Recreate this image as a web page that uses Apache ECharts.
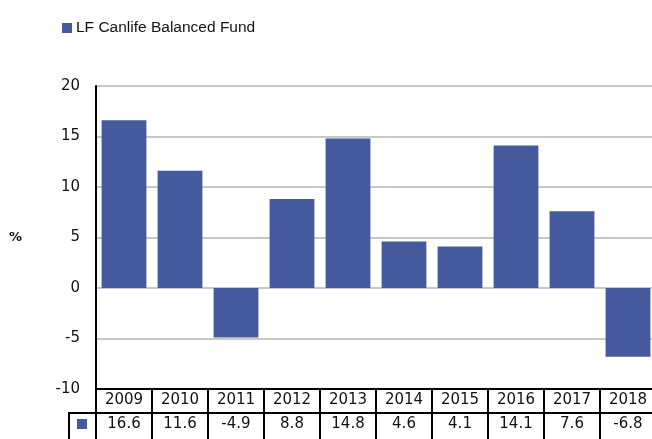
<!DOCTYPE html>
<html>
<head>
<meta charset="utf-8">
<script src="https://cdn.jsdelivr.net/npm/echarts@6/dist/echarts.min.js"></script>
<style>
html,body{margin:0;padding:0;background:#fff;}
#c{width:652px;height:439px;}
</style>
</head>
<body>
<div id="c"></div>
<script>
const seriesName = 'LF Canlife Balanced Fund';
const years = ['2009','2010','2011','2012','2013','2014','2015','2016','2017','2018'];
const values = [16.6, 11.6, -4.9, 8.8, 14.8, 4.6, 4.1, 14.1, 7.6, -6.8];
const yTicks = {min: -10, max: 20, interval: 5};

const barColor = '#445A9C';
const tickFont = 'DejaVu Sans';
const chart = echarts.init(document.getElementById('c'), null, {renderer: 'canvas'});

const baseCat = {
  type: 'category',
  position: 'bottom',
  boundaryGap: true,
  splitLine: {show: false}
};

chart.setOption({
  animation: false,
  backgroundColor: '#fff',
  legend: {
    left: 57, top: 15,
    icon: 'rect', itemWidth: 10, itemHeight: 10, itemGap: 4,
    textStyle: {fontFamily: 'Liberation Sans', fontSize: 15.5, color: '#111', padding: [0, 0, 0, -1]},
    data: [seriesName]
  },
  grid: {left: 96, top: 86, width: 560, height: 303, containLabel: false, outerBoundsMode: 'none'},
  yAxis: {
    type: 'value',
    min: yTicks.min, max: yTicks.max, interval: yTicks.interval,
    name: '%', nameLocation: 'middle', nameGap: 74, nameRotate: 0,
    nameTextStyle: {fontFamily: 'DejaVu Sans', fontWeight: 'bold', fontSize: 13, color: '#111'},
    axisLine: {show: true, lineStyle: {color: '#000', width: 2}},
    axisTick: {show: false},
    axisLabel: {fontFamily: tickFont, fontSize: 15, color: '#111', margin: 16},
    splitLine: {show: true, lineStyle: {color: '#c8c8c8', width: 2}}
  },
  xAxis: [
    Object.assign({}, baseCat, {
      data: years,
      axisLine: {show: true, onZero: false, lineStyle: {color: '#000', width: 2}},
      axisTick: {show: true, inside: false, length: 50, lineStyle: {color: '#000', width: 2}},
      axisLabel: {fontFamily: tickFont, fontSize: 15, color: '#111', margin: 4}
    }),
    Object.assign({}, baseCat, {
      data: values.map(v => v.toFixed(1)),
      offset: 24,
      axisLine: {show: true, onZero: false, lineStyle: {color: '#000', width: 2}},
      axisTick: {show: false},
      axisLabel: {fontFamily: tickFont, fontSize: 15, color: '#111', margin: 4}
    })
  ],
  series: [{
    name: seriesName,
    type: 'bar',
    xAxisIndex: 0,
    data: values,
    barCategoryGap: '20%',
    itemStyle: {color: barColor}
  }],
  graphic: [
    {type: 'line', shape: {x1: 69, y1: 413, x2: 96, y2: 413}, style: {stroke: '#000', lineWidth: 2}},
    {type: 'line', shape: {x1: 69, y1: 412, x2: 69, y2: 439}, style: {stroke: '#000', lineWidth: 2}},
    {type: 'rect', shape: {x: 77, y: 419, width: 10, height: 10}, style: {fill: barColor}}
  ]
});
</script>
</body>
</html>
